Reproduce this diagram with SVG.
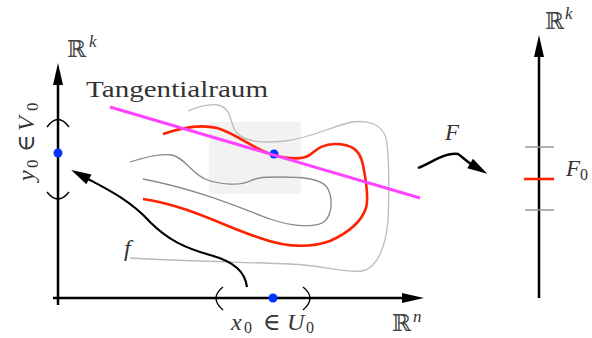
<svg xmlns="http://www.w3.org/2000/svg" width="592" height="338" viewBox="0 0 592 338">
<style>
.ax{stroke:#000;stroke-width:2.5;fill:none}
.par{stroke:#000;stroke-width:1.4;fill:none}
.t{font-family:"Liberation Serif","DejaVu Serif",serif;fill:#333}
.bb{font-family:"DejaVu Serif","Liberation Serif",serif;fill:#444}
.i{font-style:italic}
.g1{stroke:#bbb;stroke-width:1.3;fill:none}
.g2{stroke:#888;stroke-width:1.3;fill:none}
.red{stroke:#ff2200;stroke-width:2.6;fill:none}
.dot{fill:#0033ff}
</style>
<defs>
<marker id="ah" markerUnits="userSpaceOnUse" markerWidth="24" markerHeight="12" refX="0" refY="0" orient="auto" overflow="visible">
<path d="M0,-5 L22,0 L0,5 Z" fill="#000"/>
</marker>
<marker id="ah2" markerUnits="userSpaceOnUse" markerWidth="22" markerHeight="12" refX="0" refY="0" orient="auto" overflow="visible">
<path d="M-1,-5.5 L19,0 L-1,5.5 Z" fill="#000"/>
</marker>
</defs>

<g id="tangent-region">
<rect x="209" y="122" width="92" height="72" fill="#f2f2f2"/>
</g>

<g id="level-curves">
<path class="g1" d="M130,258 C180,261 240,262 290,264 C320,265 345,273 362,271 C378,268 386,245 388,220 C389,195 390,160 386,138 C382,124 368,120 352,122 C335,125 312,138 285,141 C265,143 245,143 236,132 C230,124 232,108 218,105 C207,103 195,108 188,111"/>
<path class="g2" d="M130,162 C145,157 160,153 172,155 C185,158 190,172 205,179 C220,185 240,186 250,181 C258,177 265,177 280,177 C300,177 318,178 326,186 C333,195 333,213 325,221 C315,229 290,226 270,219 C240,208 200,190 143,179"/>
<path class="red" d="M163,134 C180,128 200,124 217,128 C235,133 250,147 273,155 C285,158 300,160 308,156 C315,152 320,144 335,144 C352,144 360,150 363,165 C366,180 369,198 366,208 C362,220 350,232 330,241 C310,248 285,247 260,238 C225,227 190,206 143,199"/>
</g>

<g id="point-p">
<circle class="dot" cx="274" cy="154" r="4.5"/>
</g>

<g id="tangent-line">
<line x1="110" y1="107" x2="420" y2="198" stroke="#ff44ff" stroke-width="3"/>
<text class="t" x="86" y="97" font-size="24" textLength="182" lengthAdjust="spacingAndGlyphs">Tangentialraum</text>
</g>

<g id="left-axes">
<line class="ax" x1="58" y1="305" x2="58" y2="85" marker-end="url(#ah)"/>
<line class="ax" x1="53" y1="298" x2="402" y2="298" marker-end="url(#ah)"/>
<path class="par" d="M47,127 Q58,112 69,127"/>
<path class="par" d="M47,192 Q58,206 69,192"/>
<path class="par" d="M223,287 Q209,298 223,310"/>
<path class="par" d="M303,287 Q317,298 303,310"/>
<circle class="dot" cx="58" cy="153" r="4.5"/>
<circle class="dot" cx="273" cy="298" r="4.5"/>
<text class="bb" x="67" y="57" font-size="23">ℝ</text>
<text class="t i" x="89" y="47" font-size="17">k</text>
<text class="bb" x="392" y="331" font-size="23">ℝ</text>
<text class="t i" x="413" y="322" font-size="17">n</text>
<text class="t" font-size="24"><tspan class="i" x="231" y="330">x</tspan><tspan x="244" y="333" font-size="16">0</tspan><tspan x="263" y="330">∈</tspan><tspan class="i" x="287" y="330">U</tspan><tspan x="306" y="333" font-size="16">0</tspan></text>
<text class="t" font-size="24" transform="translate(34,181) rotate(-90)"><tspan class="i" x="0" y="0">y</tspan><tspan x="13" y="4" font-size="17">0</tspan><tspan x="29" y="0">∈</tspan><tspan class="i" x="50" y="0">V</tspan><tspan x="70" y="4" font-size="17">0</tspan></text>
</g>

<g id="map-f">
<path stroke="#000" stroke-width="2.2" fill="none" d="M247,287 C245,272 235,262 210,255 C185,248 168,240 150,222 C130,200 105,188 88,179" marker-end="url(#ah2)"/>
<text class="t i" x="124" y="256" font-size="24">f</text>
</g>

<g id="map-F">
<path stroke="#000" stroke-width="2.4" fill="none" d="M418,168 C433,162 445,152 458,154 C464,158 466,161 471,164" marker-end="url(#ah2)"/>
<text class="t i" x="445" y="140" font-size="23">F</text>
</g>

<g id="right-axis">
<line class="ax" x1="539" y1="298" x2="539" y2="57" marker-end="url(#ah)"/>
<line x1="525" y1="147" x2="554" y2="147" stroke="#999" stroke-width="1.5"/>
<line x1="525" y1="210" x2="554" y2="210" stroke="#999" stroke-width="1.5"/>
<line x1="524" y1="179" x2="554" y2="179" stroke="#ff2200" stroke-width="2.6"/>
<text class="bb" x="545" y="29" font-size="23">ℝ</text>
<text class="t i" x="565" y="19" font-size="17">k</text>
<text class="t" font-size="23"><tspan class="i" x="566" y="176">F</tspan><tspan x="580" y="180" font-size="16">0</tspan></text>
</g>
</svg>
